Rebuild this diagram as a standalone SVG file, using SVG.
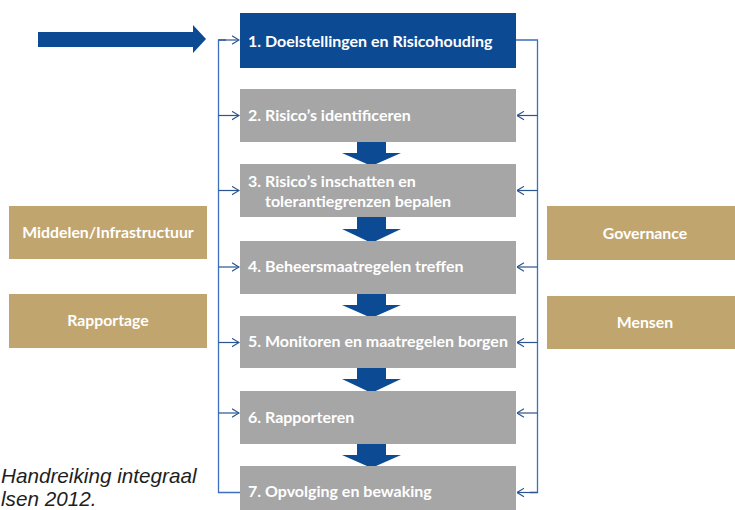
<svg xmlns="http://www.w3.org/2000/svg" width="735" height="510" viewBox="0 0 735 510">
  <defs>
    <style>
      .step { fill: #a6a6a6; }
      .step-first { fill: #0d4a94; }
      .side { fill: #c1a56f; }
      .flow { fill: #0d4a94; }
      .label { font-family: Lato, "Open Sans", "Liberation Sans", sans-serif; font-weight: bold; font-size: 16px; fill: #ffffff; }
      .side-label { font-family: Lato, "Open Sans", "Liberation Sans", sans-serif; font-weight: bold; font-size: 15.8px; fill: #ffffff; text-anchor: middle; }
      .bracket { fill: none; stroke: #3d6fbf; stroke-width: 1.3; }
      .feed { fill: none; stroke: #2b558f; stroke-width: 1.2; }
      .note { font-family: "Liberation Sans", Arial, sans-serif; font-style: italic; font-size: 20.7px; fill: #1e1e1e; }
    </style>
    <marker id="tip" viewBox="0 0 8 10" refX="7.5" refY="5" markerWidth="8" markerHeight="10" markerUnits="userSpaceOnUse" orient="auto">
      <path d="M0.5,0.8 L7.5,5 L0.5,9.2" fill="none" stroke="#2b558f" stroke-width="1.1"/>
    </marker>
  </defs>

  <rect width="735" height="510" fill="#ffffff"/>

  <!-- entry arrow -->
  <g id="entry-arrow">
    <polygon class="flow" points="38,32 193,32 193,25 206,39 193,53 193,47 38,47"/>
  </g>

  <!-- connectors: feedback brackets and step-to-step arrows -->
  <g id="connectors">
    <!-- left bracket, from step 7 up to step 1 -->
    <path class="bracket" d="M240,492.5 H218.5 V40 H226"/>
    <line class="feed" x1="218.5" y1="40" x2="239" y2="40" marker-end="url(#tip)"/>
    <line class="feed" x1="218.5" y1="115.5" x2="239" y2="115.5" marker-end="url(#tip)"/>
    <line class="feed" x1="218.5" y1="190.5" x2="239" y2="190.5" marker-end="url(#tip)"/>
    <line class="feed" x1="218.5" y1="267" x2="239" y2="267" marker-end="url(#tip)"/>
    <line class="feed" x1="218.5" y1="342.5" x2="239" y2="342.5" marker-end="url(#tip)"/>
    <line class="feed" x1="218.5" y1="413" x2="239" y2="413" marker-end="url(#tip)"/>

    <!-- right bracket, from step 1 down to step 7 -->
    <path class="bracket" d="M516,40 H537.5 V492.5 H530"/>
    <line class="feed" x1="537.5" y1="115.5" x2="517" y2="115.5" marker-end="url(#tip)"/>
    <line class="feed" x1="537.5" y1="190.5" x2="517" y2="190.5" marker-end="url(#tip)"/>
    <line class="feed" x1="537.5" y1="267" x2="517" y2="267" marker-end="url(#tip)"/>
    <line class="feed" x1="537.5" y1="342.5" x2="517" y2="342.5" marker-end="url(#tip)"/>
    <line class="feed" x1="537.5" y1="413" x2="517" y2="413" marker-end="url(#tip)"/>
    <line class="feed" x1="537.5" y1="492.5" x2="517" y2="492.5" marker-end="url(#tip)"/>

    <!-- block arrows between steps -->
    <polygon class="flow" points="357,142 386,142 386,153 401,153 371.5,166 342,153 357,153"/>
    <polygon class="flow" points="357,217 386,217 386,229 401,229 371.5,243 342,229 357,229"/>
    <polygon class="flow" points="357,294 386,294 386,305 401,305 371.5,318 342,305 357,305"/>
    <polygon class="flow" points="357,368 386,368 386,379 401,379 371.5,393 342,379 357,379"/>
    <polygon class="flow" points="357,444 386,444 386,455 401,455 371.5,468 342,455 357,455"/>
  </g>

  <!-- process steps -->
  <g id="step-1">
    <rect class="step-first" x="240" y="13" width="276" height="55"/>
    <text class="label" x="248" y="46.5">1. Doelstellingen en Risicohouding</text>
  </g>
  <g id="step-2">
    <rect class="step" x="240" y="89" width="276" height="53"/>
    <text class="label" x="248" y="121">2. Risico’s identificeren</text>
  </g>
  <g id="step-3">
    <rect class="step" x="240" y="164" width="276" height="53"/>
    <text class="label" x="248" y="187">3. Risico’s inschatten en</text>
    <text class="label" x="265" y="207">tolerantiegrenzen bepalen</text>
  </g>
  <g id="step-4">
    <rect class="step" x="240" y="241" width="276" height="53"/>
    <text class="label" x="248" y="272">4. Beheersmaatregelen treffen</text>
  </g>
  <g id="step-5">
    <rect class="step" x="240" y="316" width="276" height="52"/>
    <text class="label" x="248" y="347">5. Monitoren en maatregelen borgen</text>
  </g>
  <g id="step-6">
    <rect class="step" x="240" y="391" width="276" height="53"/>
    <text class="label" x="248" y="423">6. Rapporteren</text>
  </g>
  <g id="step-7">
    <rect class="step" x="240" y="466" width="276" height="50"/>
    <text class="label" x="248" y="497">7. Opvolging en bewaking</text>
  </g>

  <!-- supporting factors -->
  <g id="middelen">
    <rect class="side" x="9" y="206" width="198" height="53"/>
    <text class="side-label" x="108" y="237.5">Middelen/Infrastructuur</text>
  </g>
  <g id="rapportage">
    <rect class="side" x="9" y="294" width="198" height="54"/>
    <text class="side-label" x="108" y="325.5">Rapportage</text>
  </g>
  <g id="governance">
    <rect class="side" x="547" y="206" width="190" height="54"/>
    <text class="side-label" x="645" y="238.5">Governance</text>
  </g>
  <g id="mensen">
    <rect class="side" x="547" y="296" width="190" height="53"/>
    <text class="side-label" x="645" y="327.5">Mensen</text>
  </g>

  <!-- source note -->
  <text class="note" x="1" y="483">Handreiking integraal</text>
  <text class="note" x="1" y="506">lsen 2012.</text>
</svg>
